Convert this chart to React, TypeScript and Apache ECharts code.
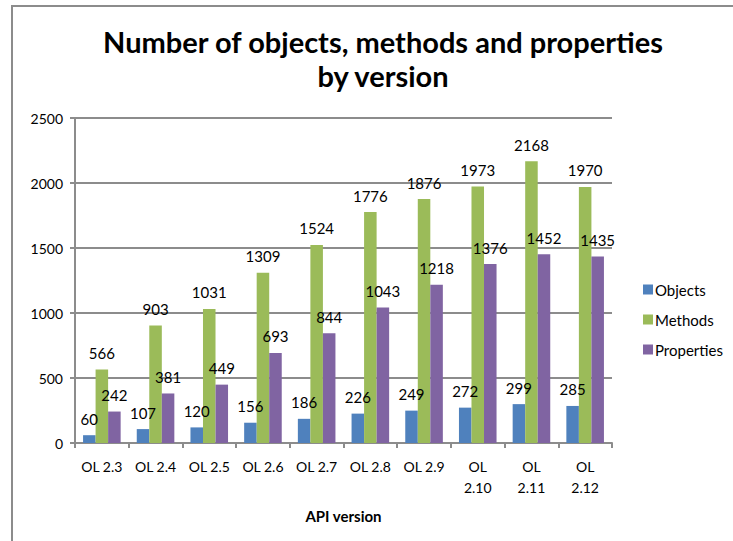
import React, { useEffect, useRef } from "react";
import * as echarts from "echarts";

const categories = ["OL 2.3", "OL 2.4", "OL 2.5", "OL 2.6", "OL 2.7", "OL 2.8", "OL 2.9", "OL\n2.10", "OL\n2.11", "OL\n2.12"];
const objects = [60, 107, 120, 156, 186, 226, 249, 272, 299, 285];
const methods = [566, 903, 1031, 1309, 1524, 1776, 1876, 1973, 2168, 1970];
const properties = [242, 381, 449, 693, 844, 1043, 1218, 1376, 1452, 1435];
const titleText = "Number of objects, methods and properties\nby version";
const xAxisTitle = "API version";

const FONT = "Lato";
const GRAY = "#8c8c8c";

export default function App() {
  const ref = useRef<HTMLDivElement>(null);
  useEffect(() => {
    const chart = echarts.init(ref.current!, null, { renderer: "svg" });
    const label = {
      show: true,
      position: "top" as const,
      distance: 9,
      fontFamily: FONT,
      fontSize: 15,
      color: "#000",
    };
    chart.setOption({
      animation: false,
      backgroundColor: "#fff",
      title: {
        text: titleText,
        left: 378,
        textAlign: "center",
        top: 19,
        textStyle: { fontFamily: FONT, fontSize: 29, fontWeight: "bold", lineHeight: 34, color: "#000" },
      },
      graphic: [
        {
          type: "rect",
          shape: { x: 12, y: 6, width: 760, height: 600 },
          style: { fill: "none", stroke: GRAY, lineWidth: 2 },
          silent: true,
        },
      ],
      legend: {
        orient: "vertical",
        left: 638,
        top: 277,
        itemGap: 15,
        itemWidth: 10,
        itemHeight: 10,
        icon: "rect",
        textStyle: { fontFamily: FONT, fontSize: 15, color: "#000", padding: [0, 0, 0, -3] },
        data: ["Objects", "Methods", "Properties"],
      },
      grid: { left: 75, right: 121, top: 118, bottom: 98 },
      xAxis: {
        type: "category",
        data: categories,
        name: xAxisTitle,
        nameLocation: "middle",
        nameGap: 65,
        nameTextStyle: { fontFamily: FONT, fontSize: 15, fontWeight: "bold", color: "#000" },
        axisLine: { lineStyle: { color: GRAY, width: 2 } },
        axisTick: { show: true, length: 5, lineStyle: { color: GRAY, width: 2 } },
        axisLabel: { fontFamily: FONT, fontSize: 14, color: "#000", margin: 13, lineHeight: 21, interval: 0 },
      },
      yAxis: {
        type: "value",
        min: 0,
        max: 2500,
        interval: 500,
        axisLine: { show: true, lineStyle: { color: GRAY, width: 2 } },
        axisTick: { show: true, length: 5, lineStyle: { color: GRAY, width: 2 } },
        splitLine: { lineStyle: { color: GRAY, width: 2 } },
        axisLabel: { fontFamily: FONT, fontSize: 14, color: "#000", margin: 12, formatter: (v: number) => String(v) },
      },
      series: [
        { name: "Objects", type: "bar", data: objects, barGap: "0%", barCategoryGap: "30%", itemStyle: { color: "#4f81bd" }, label },
        { name: "Methods", type: "bar", data: methods, barGap: "0%", barCategoryGap: "30%", itemStyle: { color: "#9bbb59" }, label },
        { name: "Properties", type: "bar", data: properties, barGap: "0%", barCategoryGap: "30%", itemStyle: { color: "#8064a2" }, label },
      ],
    });
    return () => chart.dispose();
  }, []);
  return <div ref={ref} style={{ position: "fixed", left: 0, top: 0, width: 733, height: 541 }} />;
}
